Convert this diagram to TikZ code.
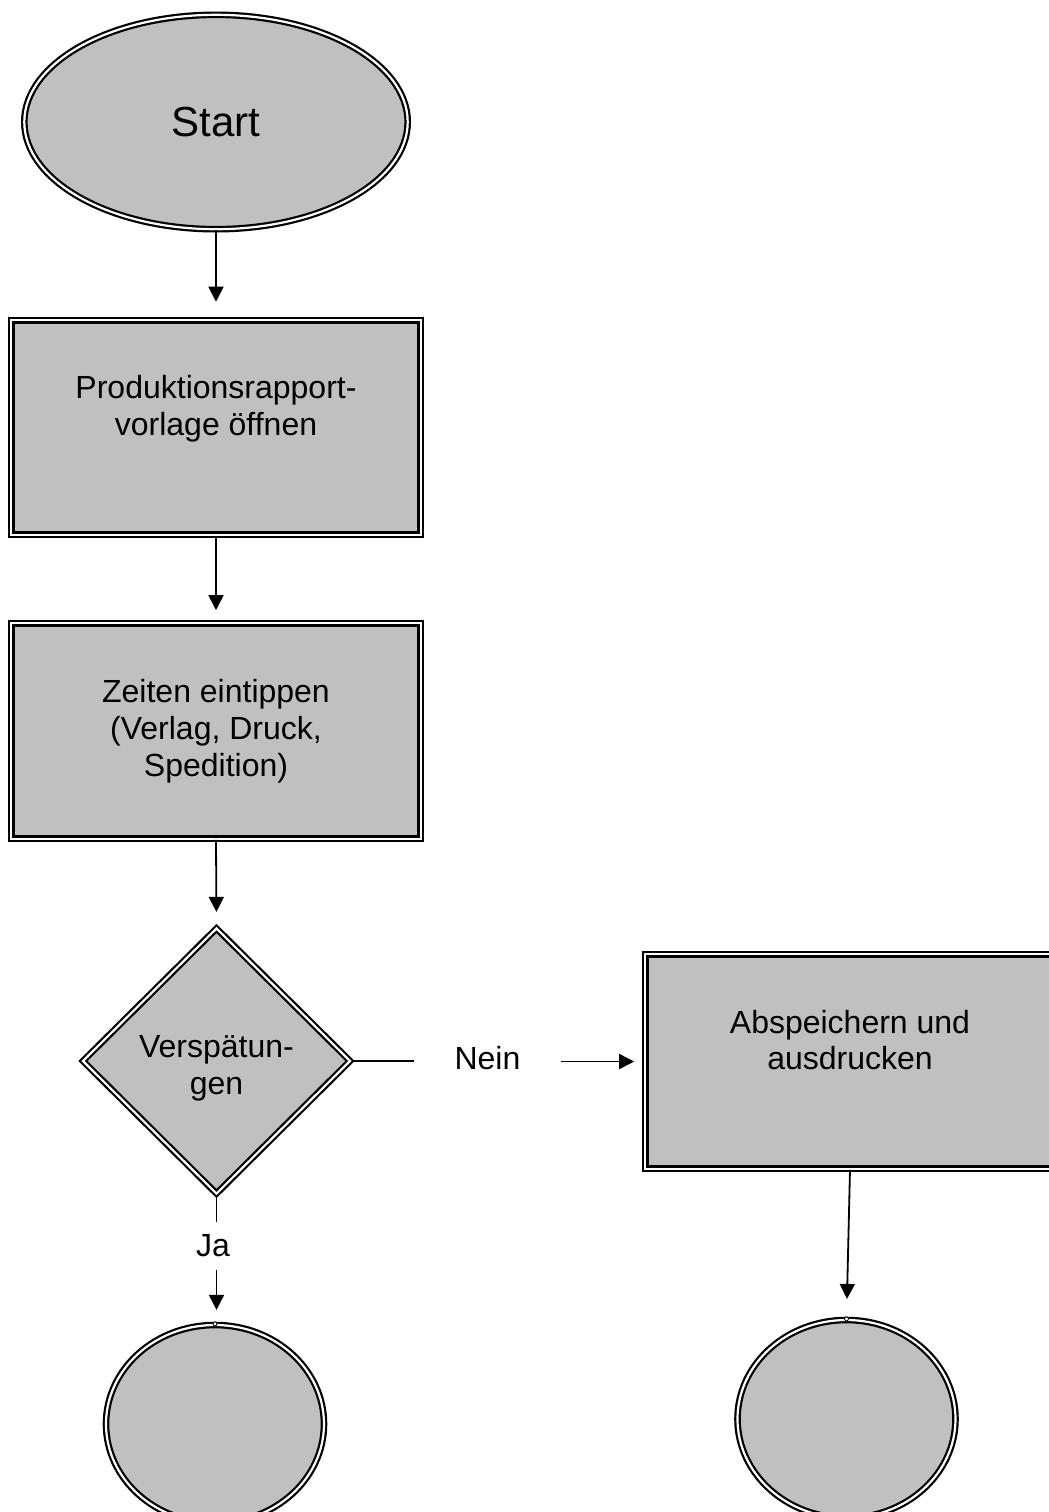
\documentclass[tikz,border=0pt]{standalone}
\usepackage{fontspec}
\setmainfont{Liberation Sans}
\usetikzlibrary{shapes.geometric,arrows.meta}
\definecolor{shapegray}{HTML}{C0C0C0}

\tikzset{
	frame/.style={draw=black, line width=1.1pt, double=white, double distance=1.1pt, fill=shapegray, inner sep=0pt},
	stepbox/.style={frame, rectangle, minimum width=204.7pt, minimum height=107.2pt},
	endcircle/.style={frame, ellipse, minimum width=109pt, minimum height=99pt},
	link/.style={line width=0.9pt},
	flow/.style={link, -{Triangle[width=7.5pt,length=7.5pt]}},
	txt/.style={align=center, font=\fontsize{16}{18.4}\selectfont, inner sep=0pt}
}

\begin{document}
\begin{tikzpicture}[x=0.5pt, y=-0.5pt]
				\useasboundingbox (0,0) rectangle (1049,1512);
				\clip (0,0) rectangle (1049,1512);
				
				\node[frame, ellipse, minimum width=191.7pt, minimum height=107.2pt, font=\fontsize{21}{25}\selectfont] (start) at (216,122) {Start};
				
				\node[stepbox] (open) at (216,427.5) {};
				\node[txt] (opentext) at (216,409) {Produktionsrapport-\\vorlage öffnen};
				
				\node[stepbox, txt, minimum height=107.7pt] (times) at (216,731) {Zeiten eintippen\\(Verlag, Druck,\\Spedition)};
				
				\node[frame, diamond, minimum width=134pt, minimum height=133pt] (delay) at (216.5,1061) {};
				\node[txt] (delaytext) at (216.5,1068.5) {Verspätun-\\gen};
				
				\node[stepbox] (save) at (850,1061.5) {};
				\node[txt] (savetext) at (850,1040) {Abspeichern und\\ausdrucken};
				
				\node[endcircle] (endleft) at (215,1424) {};
				\node[endcircle] (endright) at (846.5,1419) {};
				\draw[fill=white, line width=0.4pt] (endleft.north) circle (1pt);
				\draw[fill=white, line width=0.4pt] (endright.north) circle (1pt);
				
				\node[txt, minimum height=24pt] (yes) at (213,1246) {Ja};
				\node[txt, inner xsep=20pt] (no) at (487.5,1058.5) {Nein};
				
				\draw[flow, shorten >=8.75pt] (start.south) -- (open.north);
				\draw[flow, shorten >=6pt] (open.south) -- (times.north);
				\draw[flow, shorten >=7.5pt] (times.south) -- (delay.north);
				
				\draw[link] (delay.east) -- (delay.east -| no.west);
				\draw[flow, shorten >=5pt] (no.east |- save.west) -- (save.west);
				
				\draw[link] (delay.south) -- (delay.south |- yes.north);
				\draw[flow, shorten >=7pt] (delay.south |- yes.south) -- (delay.south |- endleft.north);
				
				\draw[flow, shorten >=10pt] (save.south) -- (endright.north);
\end{tikzpicture}
\end{document}
